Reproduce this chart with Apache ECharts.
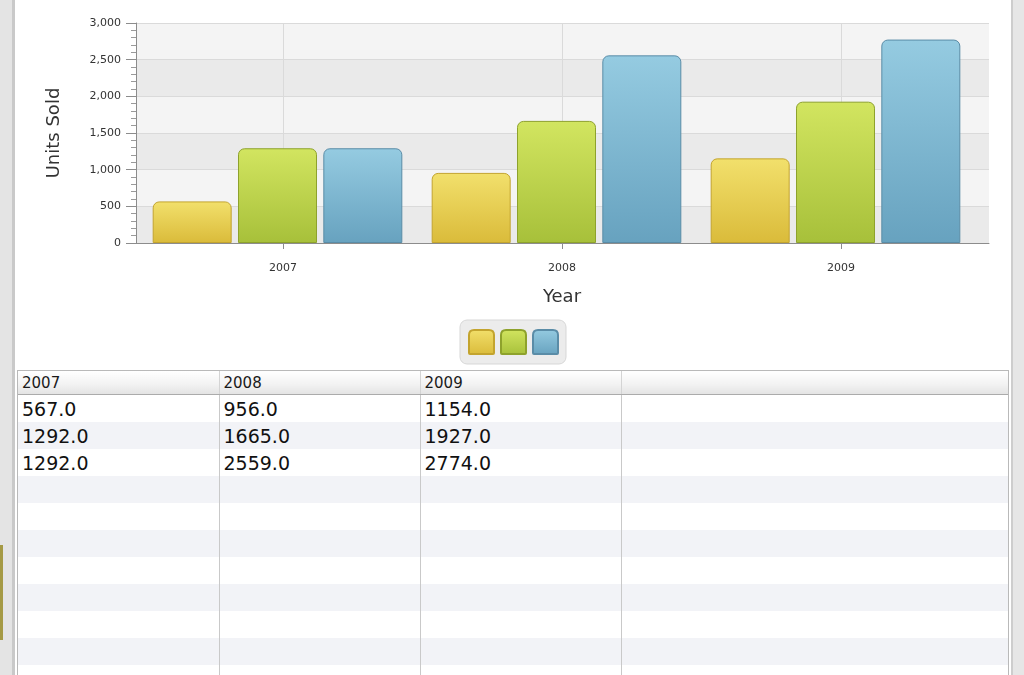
<!DOCTYPE html>
<html>
<head>
<meta charset="utf-8">
<script src="https://cdn.jsdelivr.net/npm/echarts@6.0.0/dist/echarts.min.js"></script>
<style>
  html, body { margin: 0; padding: 0; background: #fff; }
  body { width: 1024px; height: 675px; position: relative; overflow: hidden; font-family: 'DejaVu Sans', sans-serif; }
  #chart { position: absolute; left: 0; top: 0; width: 1024px; height: 370px; }
  .frame-left { position: absolute; left: 0; top: 0; width: 12px; height: 675px; background: #e4e4e4; border-right: 3px solid #c9c9c9; }
  .frame-olive { position: absolute; left: 0; top: 545px; width: 3px; height: 95px; background: #a59a45; }
  .frame-right { position: absolute; left: 1011px; top: 0; width: 13px; height: 675px; background: #e6e6e6; border-left: 2px solid #cdcdcd; box-sizing: border-box; }
  #table { position: absolute; left: 17px; top: 370px; width: 992px; height: 330px; border: 1px solid #b9b9b9; box-sizing: border-box; overflow: hidden; background: #fff; }
  #table table { border-collapse: collapse; table-layout: fixed; width: 100%; }
  #table th { height: 23px; padding: 0 4px; text-align: left; font-weight: normal; font-size: 15px; color: #1a1a1a;
    background: linear-gradient(#ffffff, #f3f3f3 55%, #e4e4e4); border-bottom: 1px solid #ababab; border-right: 1px solid #d4d4d4; }
  #table td { height: 27px; padding: 0 4px; font-size: 19px; color: #111; border-right: 1px solid #c9c9c9; white-space: nowrap; }
  #table tbody tr:nth-child(even) td { background: #f2f3f7; }
  #table th:last-child, #table td:last-child { border-right: none; }
</style>
</head>
<body>
<div id="chart"></div>
<div id="table"></div>
<div class="frame-left"></div>
<div class="frame-olive"></div>
<div class="frame-right"></div>
<script>
// data
const years = ['2007', '2008', '2009'];
const seriesNames = ['Series 1', 'Series 2', 'Series 3'];
const yellowValues = [567, 956, 1154];
const greenValues = [1292, 1665, 1927];
const blueValues = [1292, 2559, 2774];
const yMin = 0;
const yMax = 3000;
const yStep = 500;

const FONT = 'DejaVu Sans';

function barFill(top, bottom) {
  return new echarts.graphic.LinearGradient(0, 0, 0, 1, [
    { offset: 0, color: top },
    { offset: 1, color: bottom }
  ]);
}

const palette = [
  { fill: barFill('#f2e06c', '#dabb3a'), border: '#c3a42e' },
  { fill: barFill('#d2e560', '#a7c03a'), border: '#8ea22c' },
  { fill: barFill('#95cbe1', '#67a2bf'), border: '#5a8ca7' }
];
const allValues = [yellowValues, greenValues, blueValues];

const legendIcon = 'path://M0,5 Q0,0 5,0 L20,0 Q25,0 25,5 L25,23 Q25,24 24,24 L1,24 Q0,24 0,23 Z';

const myChart = echarts.init(document.getElementById('chart'));

const barSeries = allValues.map((vals, i) => ({
  name: seriesNames[i],
  type: 'bar',
  xAxisIndex: 2,
  yAxisIndex: 2,
  data: vals,
  barWidth: 79,
  barGap: '8%',
  z: 3,
  itemStyle: {
    color: palette[i].fill,
    borderColor: palette[i].border,
    borderWidth: 1,
    borderRadius: [6, 6, 0, 0]
  }
}));

const option = {
  animation: false,
  textStyle: { fontFamily: FONT },
  grid: [
    { left: 136, right: 35, top: 23, height: 220 },      // plot background + y axis
    { left: 143.5, width: 837, top: 23, height: 220 },   // year ticks / labels
    { left: 138, width: 837, top: 23, height: 220 }      // bars
  ],
  legend: {
    left: 460,
    top: 320,
    itemWidth: 25,
    itemHeight: 24,
    itemGap: 5,
    padding: [9, 7, 9, 8],
    backgroundColor: '#ececec',
    borderColor: '#d7d7d7',
    borderWidth: 1,
    borderRadius: 7,
    formatter: () => '',
    selectedMode: false,
    data: seriesNames.map(n => ({ name: n, icon: legendIcon }))
  },
  xAxis: [
    {
      gridIndex: 0, type: 'value', min: 0, max: 1,
      axisLine: { show: true, lineStyle: { color: '#8c8c8c' } },
      axisTick: { show: false }, axisLabel: { show: false }, splitLine: { show: false }
    },
    {
      gridIndex: 1, type: 'category', data: years,
      name: 'Year', nameLocation: 'middle', nameGap: 45,
      nameTextStyle: { fontSize: 18, color: '#333', fontFamily: FONT },
      axisLine: { show: false },
      axisTick: { show: true, alignWithLabel: true, length: 6, lineStyle: { color: '#8c8c8c' } },
      axisLabel: { margin: 20, fontSize: 11, color: '#333', fontFamily: FONT },
      splitLine: { show: false }
    },
    { gridIndex: 2, type: 'category', data: years, show: false }
  ],
  yAxis: [
    {
      gridIndex: 0, type: 'value', min: yMin, max: yMax, interval: yStep,
      name: 'Units Sold', nameLocation: 'middle', nameGap: 73,
      nameTextStyle: { fontSize: 18, color: '#333', fontFamily: FONT },
      axisLine: { show: true, lineStyle: { color: '#8c8c8c' } },
      axisTick: { show: true, length: 10, lineStyle: { color: '#8c8c8c' } },
      minorTick: { show: true, splitNumber: 5, length: 5, lineStyle: { color: '#9a9a9a' } },
      axisLabel: {
        margin: 15, fontSize: 11, color: '#333', fontFamily: FONT,
        formatter: v => v.toLocaleString('en-US')
      },
      splitLine: { show: true, lineStyle: { color: '#dadada' } },
      splitArea: { show: true, areaStyle: { color: ['#eaeaea', '#f4f4f4'] } }
    },
    { gridIndex: 1, type: 'value', min: yMin, max: yMax, show: false },
    { gridIndex: 2, type: 'value', min: yMin, max: yMax, show: false }
  ],
  series: [
    {
      // vertical grid lines at the year ticks
      type: 'line',
      xAxisIndex: 1,
      yAxisIndex: 1,
      data: [],
      z: 1,
      markLine: {
        z: 1,
        silent: true,
        symbol: 'none',
        label: { show: false },
        lineStyle: { color: '#dadada', type: 'solid', width: 1 },
        data: years.map(y => ({ xAxis: y }))
      }
    },
    ...barSeries
  ]
};
myChart.setOption(option);

// data table under the chart
const fillerRows = 8;
let html = '<table><colgroup><col style="width:201px"><col style="width:201px"><col style="width:201px"><col></colgroup>';
html += '<thead><tr>' + years.map(y => '<th>' + y + '</th>').join('') + '<th></th></tr></thead><tbody>';
allValues.forEach(vals => {
  html += '<tr>' + vals.map(v => '<td>' + v.toFixed(1) + '</td>').join('') + '<td></td></tr>';
});
for (let i = 0; i < fillerRows; i++) {
  html += '<tr>' + years.map(() => '<td></td>').join('') + '<td></td></tr>';
}
html += '</tbody></table>';
document.getElementById('table').innerHTML = html;
</script>
</body>
</html>
